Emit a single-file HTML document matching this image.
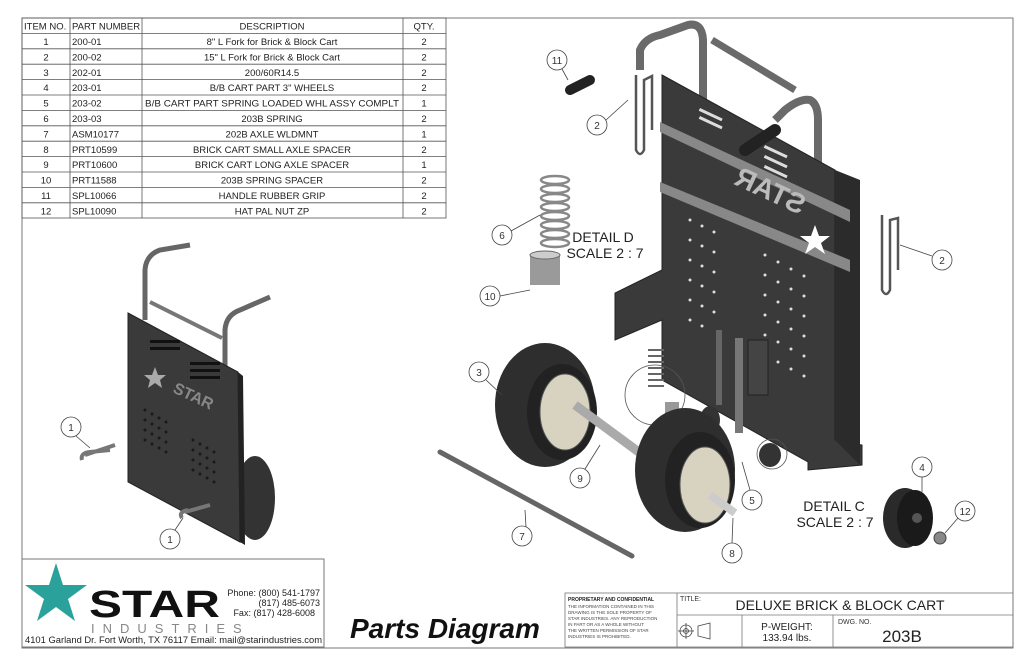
<!DOCTYPE html>
<html><head><meta charset="utf-8"><style>
html,body{margin:0;padding:0;background:#fff;}
svg{display:block;font-family:"Liberation Sans",sans-serif;}
</style></head><body>
<svg width="1024" height="663" viewBox="0 0 1024 663" xmlns="http://www.w3.org/2000/svg">
<rect width="1024" height="663" fill="#fff"/>
<rect x="22" y="18" width="991" height="630" fill="none" stroke="#777" stroke-width="1"/>
<g stroke="#555" stroke-width="0.8" fill="none">
<rect x="22" y="18" width="424" height="200"/>
<line x1="70" y1="18" x2="70" y2="218"/><line x1="142" y1="18" x2="142" y2="218"/><line x1="403" y1="18" x2="403" y2="218"/>
<line x1="22" y1="33.4" x2="446" y2="33.4"/><line x1="22" y1="48.8" x2="446" y2="48.8"/><line x1="22" y1="64.2" x2="446" y2="64.2"/><line x1="22" y1="79.6" x2="446" y2="79.6"/><line x1="22" y1="95" x2="446" y2="95"/><line x1="22" y1="110.4" x2="446" y2="110.4"/><line x1="22" y1="125.8" x2="446" y2="125.8"/><line x1="22" y1="141.2" x2="446" y2="141.2"/><line x1="22" y1="156.6" x2="446" y2="156.6"/><line x1="22" y1="172" x2="446" y2="172"/><line x1="22" y1="187.4" x2="446" y2="187.4"/><line x1="22" y1="202.8" x2="446" y2="202.8"/>
</g>
<g font-size="9.5" fill="#222">
<text x="24" y="29.5">ITEM NO.</text><text x="72" y="29.5">PART NUMBER</text><text x="272" y="29.5" text-anchor="middle">DESCRIPTION</text><text x="424" y="29.5" text-anchor="middle">QTY.</text>
<g text-anchor="middle">
<text x="46" y="45">1</text><text x="46" y="60.4">2</text><text x="46" y="75.8">3</text><text x="46" y="91.2">4</text><text x="46" y="106.6">5</text><text x="46" y="122">6</text><text x="46" y="137.4">7</text><text x="46" y="152.8">8</text><text x="46" y="168.2">9</text><text x="46" y="183.6">10</text><text x="46" y="199">11</text><text x="46" y="214.4">12</text>
<text x="272" y="45">8" L Fork for Brick &amp; Block Cart</text><text x="272" y="60.4">15" L Fork for Brick &amp; Block Cart</text><text x="272" y="75.8">200/60R14.5</text><text x="272" y="91.2">B/B CART PART 3" WHEELS</text><text x="272" y="106.6" textLength="254" lengthAdjust="spacingAndGlyphs">B/B CART PART SPRING LOADED WHL ASSY COMPLT</text><text x="272" y="122">203B SPRING</text><text x="272" y="137.4">202B AXLE WLDMNT</text><text x="272" y="152.8">BRICK CART SMALL AXLE SPACER</text><text x="272" y="168.2">BRICK CART LONG AXLE SPACER</text><text x="272" y="183.6">203B SPRING SPACER</text><text x="272" y="199">HANDLE RUBBER GRIP</text><text x="272" y="214.4">HAT PAL NUT ZP</text>
<text x="424" y="45">2</text><text x="424" y="60.4">2</text><text x="424" y="75.8">2</text><text x="424" y="91.2">2</text><text x="424" y="106.6">1</text><text x="424" y="122">2</text><text x="424" y="137.4">1</text><text x="424" y="152.8">2</text><text x="424" y="168.2">1</text><text x="424" y="183.6">2</text><text x="424" y="199">2</text><text x="424" y="214.4">2</text>
</g>
<text x="72" y="45">200-01</text><text x="72" y="60.4">200-02</text><text x="72" y="75.8">202-01</text><text x="72" y="91.2">203-01</text><text x="72" y="106.6">203-02</text><text x="72" y="122">203-03</text><text x="72" y="137.4">ASM10177</text><text x="72" y="152.8">PRT10599</text><text x="72" y="168.2">PRT10600</text><text x="72" y="183.6">PRT11588</text><text x="72" y="199">SPL10066</text><text x="72" y="214.4">SPL10090</text>
</g>

<!-- small cart -->
<g>
<path d="M145,320 L145,270 Q146,255 160,250 L190,245" stroke="#666" stroke-width="5" fill="none"/>
<path d="M225,385 L225,330 Q226,315 240,310 L270,297" stroke="#666" stroke-width="5" fill="none"/>
<line x1="150" y1="302" x2="222" y2="338" stroke="#777" stroke-width="4"/>
<ellipse cx="255" cy="498" rx="20" ry="42" fill="#333"/>
<polygon points="128,313 238,372 240,542 128,482" fill="#3a3a3a" stroke="#222"/>
<polygon points="238,372 243,376 245,545 240,542" fill="#222"/>
<g fill="#111">
<rect x="150" y="340" width="30" height="3"/><rect x="150" y="347" width="30" height="3"/><rect x="190" y="362" width="30" height="3"/><rect x="190" y="369" width="30" height="3"/><rect x="190" y="376" width="30" height="3"/>
</g>
<text x="172" y="392" font-size="16" font-weight="bold" fill="#888" transform="rotate(25 172 392)">STAR</text>
<polygon points="155,367 158,375 166,375 160,380 162,388 155,383 148,388 150,380 144,375 152,375" fill="#aaa"/>
<g fill="#1a1a1a">
<circle cx="145" cy="410" r="1.5"/><circle cx="152" cy="414" r="1.5"/><circle cx="159" cy="418" r="1.5"/><circle cx="166" cy="422" r="1.5"/><circle cx="145" cy="420" r="1.5"/><circle cx="152" cy="424" r="1.5"/><circle cx="159" cy="428" r="1.5"/><circle cx="166" cy="432" r="1.5"/><circle cx="145" cy="430" r="1.5"/><circle cx="152" cy="434" r="1.5"/><circle cx="159" cy="438" r="1.5"/><circle cx="166" cy="442" r="1.5"/><circle cx="145" cy="440" r="1.5"/><circle cx="152" cy="444" r="1.5"/><circle cx="159" cy="448" r="1.5"/><circle cx="166" cy="452" r="1.5"/>
<circle cx="193" cy="440" r="1.5"/><circle cx="200" cy="444" r="1.5"/><circle cx="207" cy="448" r="1.5"/><circle cx="214" cy="452" r="1.5"/><circle cx="193" cy="450" r="1.5"/><circle cx="200" cy="454" r="1.5"/><circle cx="207" cy="458" r="1.5"/><circle cx="214" cy="462" r="1.5"/><circle cx="193" cy="460" r="1.5"/><circle cx="200" cy="464" r="1.5"/><circle cx="207" cy="468" r="1.5"/><circle cx="214" cy="472" r="1.5"/><circle cx="193" cy="470" r="1.5"/><circle cx="200" cy="474" r="1.5"/><circle cx="207" cy="478" r="1.5"/><circle cx="214" cy="482" r="1.5"/>
</g>
<path d="M185,512 L210,505 M182,518 Q178,512 188,510" stroke="#777" stroke-width="4" fill="none"/>
<path d="M85,455 L115,445 M82,460 Q80,453 90,452 L110,450" stroke="#777" stroke-width="4" fill="none"/>
</g>

<!-- big cart -->
<g>
<path d="M640,70 L640,50 Q645,38 660,35 L688,25 Q702,22 703,40 L703,290" stroke="#6a6a6a" stroke-width="8" fill="none"/>
<path d="M712,40 L795,90" stroke="#6a6a6a" stroke-width="7"/>
<path d="M775,120 L785,110 Q800,98 810,100 Q818,104 818,120 L818,270" stroke="#6a6a6a" stroke-width="8" fill="none"/>
<polygon points="662,75 835,170 835,440 862,445 862,465 808,470 808,462 662,380 662,320 615,340 615,293 662,270" fill="#3a3a3a" stroke="#222"/>
<polygon points="835,170 860,180 860,465 835,440" fill="#2b2b2b"/>
<polygon points="660,122 850,210 850,222 660,132" fill="#888"/>
<polygon points="660,182 850,260 850,272 660,192" fill="#888"/>
<path d="M812,135 L750,135" stroke="#3a3a3a" stroke-width="0"/>
<line x1="775" y1="130" x2="745" y2="150" stroke="#222" stroke-width="12" stroke-linecap="round"/>
<g fill="#ddd"><rect x="700" y="108" width="25" height="3" transform="rotate(25 700 108)"/><rect x="700" y="116" width="25" height="3" transform="rotate(25 700 116)"/><rect x="765" y="145" width="25" height="3" transform="rotate(25 765 145)"/><rect x="765" y="155" width="25" height="3" transform="rotate(25 765 155)"/><rect x="765" y="165" width="25" height="3" transform="rotate(25 765 165)"/></g>
<text x="0" y="0" font-size="28" font-weight="bold" fill="#bbb" transform="translate(800,215) rotate(-155) scale(1,-1)">STAR</text>
<polygon points="815,225 819,236 830,236 821,243 825,254 815,247 805,254 809,243 800,236 811,236" fill="#fff"/>
<g fill="#ddd">
<circle cx="690" cy="220" r="1.5"/><circle cx="702" cy="226" r="1.5"/><circle cx="714" cy="232" r="1.5"/><circle cx="690" cy="240" r="1.5"/><circle cx="702" cy="246" r="1.5"/><circle cx="714" cy="252" r="1.5"/><circle cx="690" cy="260" r="1.5"/><circle cx="702" cy="266" r="1.5"/><circle cx="714" cy="272" r="1.5"/><circle cx="690" cy="280" r="1.5"/><circle cx="702" cy="286" r="1.5"/><circle cx="714" cy="292" r="1.5"/><circle cx="690" cy="300" r="1.5"/><circle cx="702" cy="306" r="1.5"/><circle cx="714" cy="312" r="1.5"/><circle cx="690" cy="320" r="1.5"/><circle cx="702" cy="326" r="1.5"/>
<circle cx="765" cy="255" r="1.5"/><circle cx="778" cy="262" r="1.5"/><circle cx="791" cy="269" r="1.5"/><circle cx="804" cy="276" r="1.5"/><circle cx="765" cy="275" r="1.5"/><circle cx="778" cy="282" r="1.5"/><circle cx="791" cy="289" r="1.5"/><circle cx="804" cy="296" r="1.5"/><circle cx="765" cy="295" r="1.5"/><circle cx="778" cy="302" r="1.5"/><circle cx="791" cy="309" r="1.5"/><circle cx="804" cy="316" r="1.5"/><circle cx="765" cy="315" r="1.5"/><circle cx="778" cy="322" r="1.5"/><circle cx="791" cy="329" r="1.5"/><circle cx="804" cy="336" r="1.5"/><circle cx="765" cy="335" r="1.5"/><circle cx="778" cy="342" r="1.5"/><circle cx="791" cy="349" r="1.5"/><circle cx="804" cy="356" r="1.5"/><circle cx="765" cy="355" r="1.5"/><circle cx="778" cy="362" r="1.5"/><circle cx="791" cy="369" r="1.5"/><circle cx="804" cy="376" r="1.5"/>
</g>
<rect x="716" y="330" width="6" height="75" fill="#666"/><rect x="735" y="338" width="8" height="95" fill="#777"/><rect x="748" y="340" width="20" height="55" fill="#444" stroke="#222"/>
<circle cx="655" cy="395" r="30" fill="none" stroke="#555" stroke-width="0.8"/>
<path d="M648,350 h16 M648,356 h16 M648,362 h16 M648,368 h16 M648,374 h16 M648,380 h16 M648,386 h16" stroke="#666" stroke-width="2"/>
<rect x="665" y="402" width="14" height="12" fill="#999"/>
<ellipse cx="710" cy="420" rx="10" ry="14" fill="#333"/>
<ellipse cx="770" cy="455" rx="11" ry="12" fill="#333"/>
<circle cx="772" cy="454" r="15" fill="none" stroke="#555" stroke-width="0.8"/>
</g>
<path d="M636,75 L636,150 Q640,158 644,150 L644,80 L652,76 L652,130" stroke="#555" stroke-width="2.5" fill="none"/>
<path d="M882,215 L882,290 Q886,298 890,290 L890,220 L898,218 L898,270" stroke="#555" stroke-width="2.5" fill="none"/>
<line x1="570" y1="90" x2="590" y2="80" stroke="#222" stroke-width="10" stroke-linecap="round"/>
<g stroke="#888" stroke-width="2.5" fill="none">
<ellipse cx="555" cy="180" rx="14" ry="4"/><ellipse cx="555" cy="189" rx="14" ry="4"/><ellipse cx="555" cy="198" rx="14" ry="4"/><ellipse cx="555" cy="207" rx="14" ry="4"/><ellipse cx="555" cy="216" rx="14" ry="4"/><ellipse cx="555" cy="225" rx="14" ry="4"/><ellipse cx="555" cy="234" rx="14" ry="4"/><ellipse cx="555" cy="243" rx="14" ry="4"/>
</g>
<rect x="530" y="255" width="30" height="30" fill="#9a9a9a"/><ellipse cx="545" cy="255" rx="15" ry="4" fill="#ccc" stroke="#666"/>
<ellipse cx="545" cy="405" rx="50" ry="62" fill="#2e2e2e"/>
<ellipse cx="562" cy="412" rx="35" ry="48" fill="#222"/>
<ellipse cx="565" cy="412" rx="25" ry="38" fill="#d8d2c0" stroke="#555"/>
<line x1="575" y1="405" x2="720" y2="512" stroke="#aaa" stroke-width="9"/>
<ellipse cx="685" cy="470" rx="50" ry="62" fill="#2e2e2e"/>
<ellipse cx="700" cy="480" rx="35" ry="48" fill="#222"/>
<ellipse cx="705" cy="485" rx="25" ry="38" fill="#d8d2c0" stroke="#555"/>
<line x1="710" y1="495" x2="735" y2="513" stroke="#ccc" stroke-width="8"/>
<line x1="440" y1="452" x2="632" y2="556" stroke="#666" stroke-width="5" stroke-linecap="round"/>
<ellipse cx="905" cy="518" rx="22" ry="30" fill="#2a2a2a"/><ellipse cx="915" cy="518" rx="18" ry="28" fill="#1a1a1a"/><circle cx="917" cy="518" r="5" fill="#555"/>
<circle cx="940" cy="538" r="6" fill="#888" stroke="#444"/>
<g font-size="14" fill="#222" text-anchor="middle">
<text x="603" y="242">DETAIL D</text><text x="605" y="258">SCALE 2 : 7</text>
<text x="834" y="511">DETAIL C</text><text x="835" y="527">SCALE 2 : 7</text>
</g>
<g fill="#fff" stroke="#444" stroke-width="0.8">
<circle cx="557" cy="60" r="10"/><circle cx="597" cy="125" r="10"/><circle cx="502" cy="235" r="10"/><circle cx="490" cy="296" r="10"/><circle cx="942" cy="260" r="10"/><circle cx="479" cy="372" r="10"/><circle cx="580" cy="478" r="10"/><circle cx="522" cy="536" r="10"/><circle cx="752" cy="500" r="10"/><circle cx="732" cy="553" r="10"/><circle cx="922" cy="467" r="10"/><circle cx="965" cy="511" r="10"/><circle cx="71" cy="427" r="10"/><circle cx="170" cy="539" r="10"/>
</g>
<g stroke="#444" stroke-width="0.8">
<line x1="562" y1="69" x2="568" y2="80"/><line x1="606" y1="120" x2="628" y2="100"/><line x1="511" y1="231" x2="540" y2="215"/><line x1="500" y1="296" x2="530" y2="290"/><line x1="932" y1="256" x2="900" y2="245"/><line x1="486" y1="380" x2="502" y2="395"/><line x1="585" y1="469" x2="600" y2="445"/><line x1="526" y1="527" x2="525" y2="510"/><line x1="750" y1="490" x2="742" y2="462"/><line x1="732" y1="543" x2="733" y2="518"/><line x1="922" y1="477" x2="922" y2="492"/><line x1="958" y1="518" x2="945" y2="533"/><line x1="76" y1="436" x2="90" y2="448"/><line x1="175" y1="530" x2="183" y2="518"/>
</g>
<g font-size="10" fill="#333" text-anchor="middle">
<text x="557" y="64">11</text><text x="597" y="129">2</text><text x="502" y="239">6</text><text x="490" y="300">10</text><text x="942" y="264">2</text><text x="479" y="376">3</text><text x="580" y="482">9</text><text x="522" y="540">7</text><text x="752" y="504">5</text><text x="732" y="557">8</text><text x="922" y="471">4</text><text x="965" y="515">12</text><text x="71" y="431">1</text><text x="170" y="543">1</text>
</g>

<!-- logo box -->
<rect x="22" y="559" width="302" height="88" fill="none" stroke="#777"/>
<polygon points="56,563 63,585 87,585 68,599 75,621 56,607 37,621 44,599 25,585 49,585" fill="#2aa19b"/>
<text x="89" y="617" font-size="38" font-weight="bold" fill="#111" textLength="131" lengthAdjust="spacingAndGlyphs">STAR</text>
<text x="91" y="633" font-size="13" fill="#888" letter-spacing="8">INDUSTRIES</text>
<g font-size="9" fill="#222" text-anchor="end">
<text x="320" y="596">Phone: (800) 541-1797</text><text x="320" y="606">(817) 485-6073</text><text x="315" y="616">Fax: (817) 428-6008</text>
</g>
<text x="25" y="643" font-size="9" fill="#222" textLength="297" lengthAdjust="spacingAndGlyphs">4101 Garland Dr. Fort Worth, TX 76117  Email: mail@starindustries.com</text>
<text x="350" y="638" font-size="28" font-weight="bold" font-style="italic" fill="#111">Parts Diagram</text>

<g stroke="#777" fill="none" stroke-width="0.8">
<rect x="565" y="593" width="448" height="54"/>
<line x1="677" y1="593" x2="677" y2="647"/><line x1="677" y1="615" x2="1013" y2="615"/><line x1="742" y1="615" x2="742" y2="647"/><line x1="833" y1="615" x2="833" y2="647"/>
</g>
<text x="568" y="601" font-size="5" font-weight="bold" fill="#222">PROPRIETARY AND CONFIDENTIAL</text>
<g font-size="4.5" fill="#444"><text x="568" y="608">THE INFORMATION CONTAINED IN THIS</text><text x="568" y="614">DRAWING IS THE SOLE PROPERTY OF</text><text x="568" y="620">STAR INDUSTRIES. ANY REPRODUCTION</text><text x="568" y="626">IN PART OR AS A WHOLE WITHOUT</text><text x="568" y="632">THE WRITTEN PERMISSION OF STAR</text><text x="568" y="638">INDUSTRIES IS PROHIBITED.</text></g>
<text x="680" y="601" font-size="7" fill="#333">TITLE:</text>
<text x="840" y="610" font-size="14" fill="#222" text-anchor="middle">DELUXE BRICK &amp; BLOCK CART</text>
<g stroke="#444" fill="none" stroke-width="0.8"><circle cx="686" cy="631" r="6"/><circle cx="686" cy="631" r="2.5"/><line x1="678" y1="631" x2="694" y2="631"/><line x1="686" y1="623" x2="686" y2="639"/><path d="M698,626 L710,623 L710,639 L698,636 Z"/></g>
<text x="787" y="630" font-size="10" fill="#222" text-anchor="middle">P-WEIGHT:</text>
<text x="787" y="641" font-size="10" fill="#222" text-anchor="middle">133.94 lbs.</text>
<text x="838" y="624" font-size="7" fill="#333">DWG. NO.</text>
<text x="902" y="642" font-size="17" fill="#222" text-anchor="middle">203B</text>
</svg>
</body></html>
